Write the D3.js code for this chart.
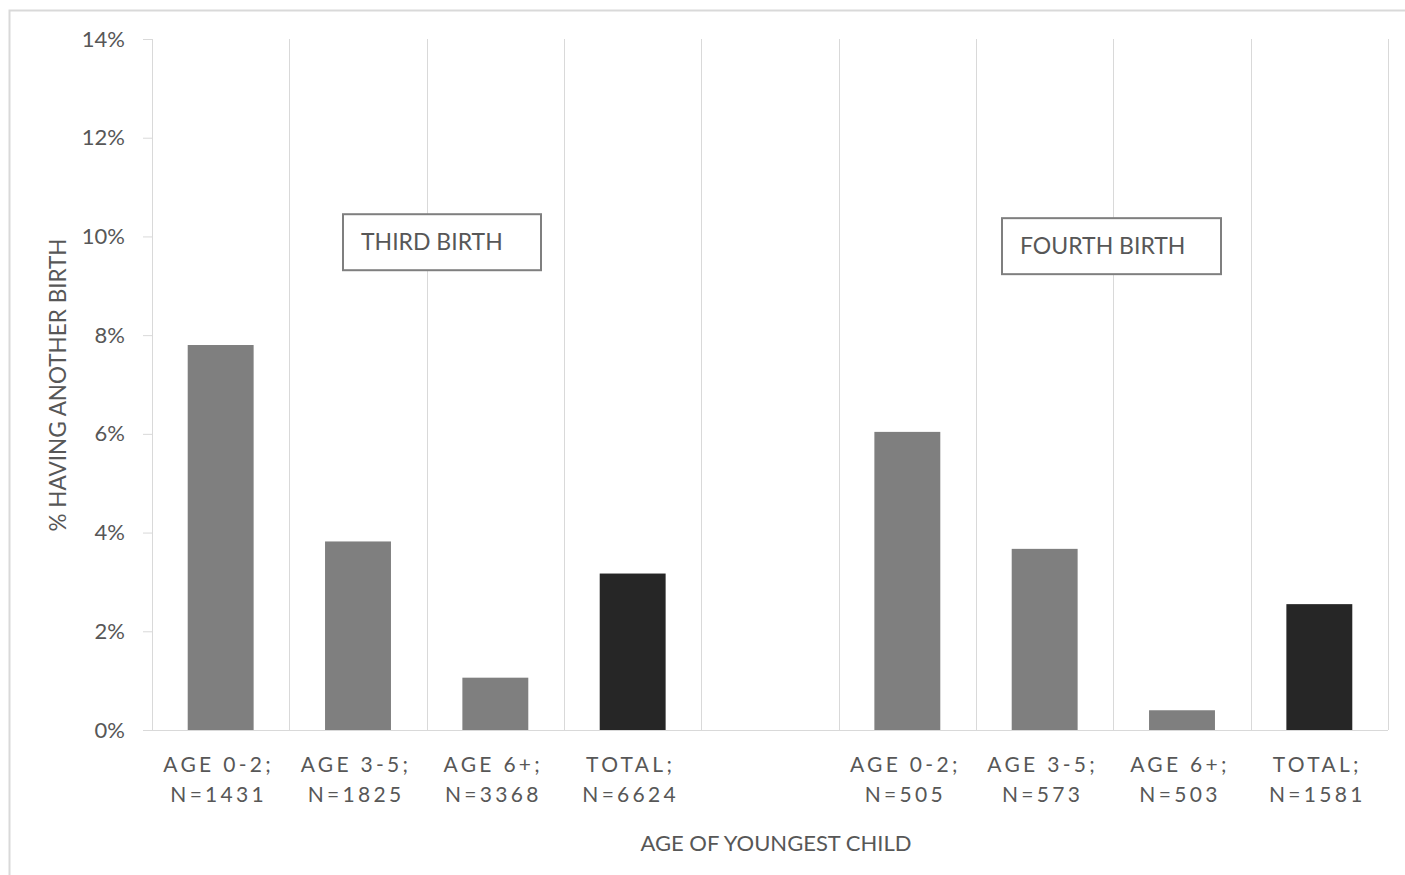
<!DOCTYPE html>
<html>
<head>
<meta charset="utf-8">
<script src="https://cdn.jsdelivr.net/npm/d3@7"></script>
<style>
  html, body { margin: 0; padding: 0; background: #fff; }
  svg { display: block; }
  text { font-family: Lato, "Open Sans", sans-serif; fill: #575757; }
</style>
</head>
<body>
<svg id="chart" width="1405" height="875"></svg>
<script>
// ---- data ----
const categories = ["t02", "t35", "t6", "tTot", "gap", "f02", "f35", "f6", "fTot"];
const labelLine1 = ["AGE 0-2;", "AGE 3-5;", "AGE 6+;", "TOTAL;", "", "AGE 0-2;", "AGE 3-5;", "AGE 6+;", "TOTAL;"];
const labelLine2 = ["N=1431", "N=1825", "N=3368", "N=6624", "", "N=505", "N=573", "N=503", "N=1581"];
const values = [7.8, 3.82, 1.06, 3.17, null, 6.04, 3.67, 0.40, 2.55];
const isTotal = [false, false, false, true, false, false, false, false, true];
const yTicks = [0, 2, 4, 6, 8, 10, 12, 14];
const groupLabels = ["THIRD BIRTH", "FOURTH BIRTH"];
const yTitle = "% HAVING ANOTHER BIRTH";
const xTitle = "AGE OF YOUNGEST CHILD";

// ---- layout ----
const svg = d3.select("#chart");
const pLeft = 152, pRight = 1388, pTop = 39, pBottom = 730;

const x = d3.scaleBand().domain(categories).range([pLeft, pRight]).padding(0);
const y = d3.scaleLinear().domain([0, 14]).range([pBottom, pTop]);
const barW = x.bandwidth() * 0.48;

// outer frame
svg.append("path")
  .attr("d", "M9.5,880 L9.5,10.5 L1410,10.5")
  .attr("fill", "none").attr("stroke", "#d9d9d9").attr("stroke-width", 2);

// vertical gridlines at band boundaries
const bounds = categories.map(c => x(c)).concat([pRight]);
svg.append("g").selectAll("line").data(bounds).join("line")
  .attr("x1", d => Math.round(d) + 0.5).attr("x2", d => Math.round(d) + 0.5)
  .attr("y1", pTop).attr("y2", pBottom)
  .attr("stroke", "#d9d9d9").attr("stroke-width", 1);

// y axis (ticks + labels)
const yAxis = d3.axisLeft(y).tickValues(yTicks).tickFormat(d => d + "%").tickSize(9).tickPadding(18);
const ya = svg.append("g").attr("transform", `translate(${pLeft},0)`).call(yAxis);
ya.select(".domain").remove();
ya.selectAll(".tick line").attr("stroke", "#d9d9d9");
ya.selectAll(".tick text").attr("font-size", 22).attr("fill", "#575757")
  .style("font-family", "Lato, sans-serif");

// baseline
svg.append("line")
  .attr("x1", pLeft).attr("x2", pRight)
  .attr("y1", pBottom + 0.5).attr("y2", pBottom + 0.5)
  .attr("stroke", "#d9d9d9").attr("stroke-width", 1);

// bars
const barData = categories.map((c, i) => ({ c, v: values[i], total: isTotal[i] })).filter(d => d.v !== null);
svg.append("g").selectAll("rect").data(barData).join("rect")
  .attr("x", d => x(d.c) + (x.bandwidth() - barW) / 2)
  .attr("width", barW)
  .attr("y", d => y(d.v))
  .attr("height", d => y(0) - y(d.v))
  .attr("fill", d => d.total ? "#262626" : "#7f7f7f");

// category labels
const cl = svg.append("g");
categories.forEach((c, i) => {
  const cx = x(c) + x.bandwidth() / 2 - 2;
  cl.append("text").attr("x", cx).attr("y", 772).attr("text-anchor", "middle")
    .attr("font-size", 21).style("letter-spacing", "3.3px").text(labelLine1[i]);
  cl.append("text").attr("x", cx).attr("y", 802).attr("text-anchor", "middle")
    .attr("font-size", 21).style("letter-spacing", "3.3px").text(labelLine2[i]);
});

// group annotation boxes
const boxes = [
  { label: groupLabels[0], x0: 343, x1: 541, yv: 10.45 },
  { label: groupLabels[1], x0: 1002, x1: 1221, yv: 10.37 }
];
boxes.forEach(b => {
  const yTop = y(b.yv);
  svg.append("rect").attr("x", b.x0).attr("y", yTop).attr("width", b.x1 - b.x0).attr("height", 56)
    .attr("fill", "#fff").attr("stroke", "#7f7f7f").attr("stroke-width", 2);
  svg.append("text").attr("x", b.x0 + 18).attr("y", yTop + 36)
    .attr("font-size", 23).text(b.label);
});

// axis titles
svg.append("text").attr("transform", `translate(66,385) rotate(-90)`)
  .attr("text-anchor", "middle").attr("font-size", 22.5).text(yTitle);
svg.append("text").attr("x", 776).attr("y", 851)
  .attr("text-anchor", "middle").attr("font-size", 22).text(xTitle);
</script>
</body>
</html>
